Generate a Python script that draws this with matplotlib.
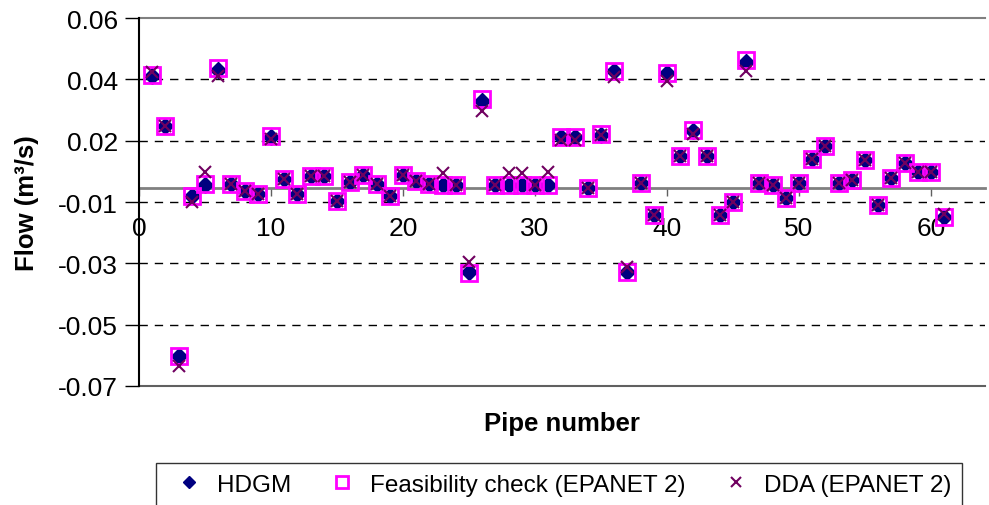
import numpy as np
import matplotlib
matplotlib.use("Agg")
import matplotlib.pyplot as plt

plt.rcParams['font.family'] = ['Liberation Sans', 'DejaVu Sans']

# pipe numbers and flows (m3/s)
pipes = list(range(1, 62))

hdgm = [0.0396, 0.0219, -0.0593, -0.0028, 0.0010, 0.0417, 0.0012, -0.0010, -0.0022, 0.0181,
        0.0031, -0.0022, 0.0043, 0.0043, -0.0048, 0.0022, 0.0045, 0.0013, -0.0030, 0.0045,
        0.0025, 0.0012, 0.0010, 0.0010, -0.0299, 0.0308, 0.0010, 0.0010, 0.0010, 0.0010,
        0.0010, 0.0181, 0.0181, -0.0002, 0.0187, 0.0412, -0.0296, 0.0016, -0.0095, 0.0405,
        0.0111, 0.0202, 0.0111, -0.0096, -0.0049, 0.0443, 0.0017, 0.0010, -0.0037, 0.0016,
        0.0102, 0.0149, 0.0017, 0.0028, 0.0098, -0.0061, 0.0034, 0.0087, 0.0055, 0.0055,
        -0.0102]

feasibility = [0.0398, 0.0219, -0.0593, -0.0028, 0.0013, 0.0423, 0.0012, -0.0010, -0.0022, 0.0183,
               0.0031, -0.0022, 0.0043, 0.0043, -0.0048, 0.0022, 0.0045, 0.0013, -0.0030, 0.0045,
               0.0025, 0.0012, 0.0010, 0.0010, -0.0302, 0.0314, 0.0010, 0.0010, 0.0010, 0.0010,
               0.0010, 0.0181, 0.0181, -0.0002, 0.0189, 0.0414, -0.0296, 0.0016, -0.0095, 0.0406,
               0.0111, 0.0204, 0.0111, -0.0096, -0.0049, 0.0452, 0.0017, 0.0010, -0.0037, 0.0016,
               0.0102, 0.0149, 0.0017, 0.0028, 0.0098, -0.0061, 0.0034, 0.0087, 0.0055, 0.0055,
               -0.0102]

dda = [0.0408, 0.0219, -0.0629, -0.0051, 0.0057, 0.0396, 0.0012, -0.0010, -0.0022, 0.0172,
       0.0031, -0.0022, 0.0043, 0.0043, -0.0048, 0.0022, 0.0045, 0.0013, -0.0030, 0.0045,
       0.0025, 0.0012, 0.0054, 0.0010, -0.0261, 0.0270, 0.0010, 0.0054, 0.0054, 0.0010,
       0.0057, 0.0170, 0.0170, -0.0002, 0.0187, 0.0390, -0.0281, 0.0016, -0.0095, 0.0378,
       0.0111, 0.0190, 0.0111, -0.0096, -0.0049, 0.0414, 0.0017, 0.0010, -0.0037, 0.0016,
       0.0102, 0.0149, 0.0017, 0.0028, 0.0098, -0.0061, 0.0034, 0.0087, 0.0055, 0.0055,
       -0.0093]

# y ticks as in the original (Excel rounding of an odd major unit)
ytick_vals = np.linspace(0.06, -0.07, 7)
ytick_labels = ['0.06', '0.04', '0.02', '-0.01', '-0.03', '-0.05', '-0.07']
xtick_vals = [0, 10, 20, 30, 40, 50, 60]

W, H = 989, 506
fig = plt.figure(figsize=(W / 100, H / 100), dpi=100)
ax = fig.add_axes([139 / W, 1 - 387 / H, 846 / W, 368 / H])

ax.set_ylim(-0.07, 0.06)
ax.set_xlim(0, 846 / 13.2)

# dashed gridlines on inner ticks
for v in ytick_vals[1:-1]:
    ax.axhline(v, color='black', lw=1, ls=(0, (6, 5)), zorder=1)
# frame lines top / bottom
ax.plot([0, 1], [1, 1], transform=ax.transAxes, color='#808080', lw=1.5, clip_on=False, zorder=1)
ax.plot([0, 1], [0, 0], transform=ax.transAxes, color='#606060', lw=1.5, clip_on=False, zorder=1)

ax.plot(pipes, hdgm, ls='none', marker='D', ms=8, color='#000080', label='HDGM', zorder=3)
ax.plot(pipes, feasibility, ls='none', marker='s', ms=11, mfc='none', mec='#FF00FF', mew=2,
        label='Feasibility check (EPANET 2)', zorder=4)
ax.plot(pipes, dda, ls='none', marker='x', ms=9, mew=1.5, color='#700060',
        label='DDA (EPANET 2)', zorder=5)

for s in ['top', 'right']:
    ax.spines[s].set_visible(False)
ax.spines['left'].set_color('black')
ax.spines['left'].set_linewidth(1.5)
ax.spines['bottom'].set_position(('data', 0))
ax.spines['bottom'].set_color('#808080')
ax.spines['bottom'].set_linewidth(2)
ax.spines['bottom'].set_zorder(2)

ax.set_yticks(ytick_vals)
ax.set_yticklabels(ytick_labels)
ax.set_xticks(xtick_vals)
ax.tick_params(axis='y', direction='out', length=10, width=1, pad=5, labelsize=19)
ax.tick_params(axis='x', direction='out', length=6, width=1, pad=14, labelsize=19, color='#606060')

fig.text(562 / W, 1 - 424 / H, 'Pipe number', ha='center', va='center',
         fontsize=18.5, fontweight='bold')
fig.text(27 / W, 1 - 203 / H, 'Flow (m³/s)', ha='center', va='center', rotation=90,
         fontsize=18.5, fontweight='bold')

leg = fig.legend(loc='upper left', bbox_to_anchor=(156 / W, 1 - 464 / H, (962 - 156) / W, 0),
                 mode='expand', ncol=3, fontsize=17.5, frameon=True, fancybox=False,
                 edgecolor='black', borderaxespad=0, handlelength=1.8, handletextpad=0.25,
                 borderpad=0.45, markerscale=0.8)
leg.get_frame().set_linewidth(1)

fig.savefig('out.png', dpi=100)
